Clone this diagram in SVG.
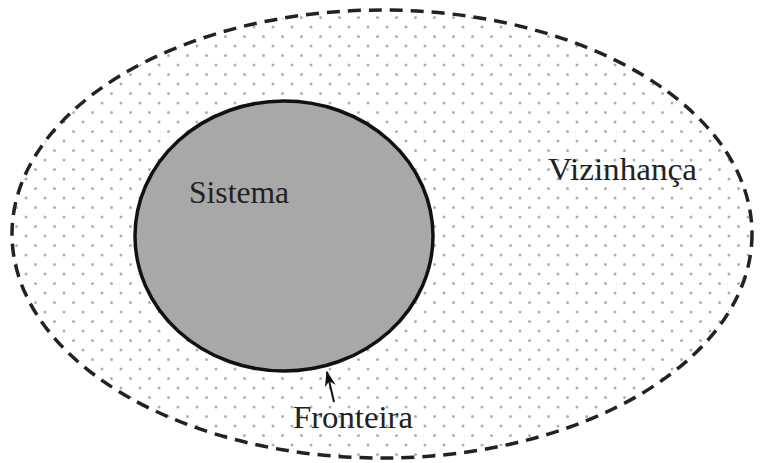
<svg xmlns="http://www.w3.org/2000/svg" width="761" height="463" viewBox="0 0 761 463">
<defs>
<pattern id="dots" x="3" y="4" width="19" height="19" patternUnits="userSpaceOnUse">
<circle cx="4" cy="4" r="1.5" fill="#b0b0b0"/>
<circle cx="13.5" cy="13.5" r="1.5" fill="#b0b0b0"/>
</pattern>
<marker id="arr" viewBox="0 0 10 10" refX="9" refY="5" markerWidth="16" markerHeight="11" markerUnits="userSpaceOnUse" orient="auto" preserveAspectRatio="none">
<path d="M0,0 L10,5 L0,10 L3,5 Z" fill="#111"/>
</marker>
<style>
.lbl{font-family:"Liberation Serif","Times New Roman",serif;font-size:32px;fill:#222}
</style>
</defs>
<rect width="761" height="463" fill="#fff"/>
<g id="vizinhanca">
<ellipse cx="382" cy="234" rx="370" ry="224" fill="url(#dots)" stroke="#222" stroke-width="3.5" stroke-dasharray="13 8"/>
<text class="lbl" x="548" y="180" textLength="149" lengthAdjust="spacingAndGlyphs">Vizinhança</text>
</g>
<g id="sistema">
<ellipse cx="284" cy="236" rx="149" ry="135" fill="#a8a8a8" stroke="#111" stroke-width="3.5"/>
<text class="lbl" x="189" y="203" textLength="100" lengthAdjust="spacingAndGlyphs">Sistema</text>
</g>
<g id="fronteira">
<text class="lbl" x="293" y="428" textLength="120" lengthAdjust="spacingAndGlyphs">Fronteira</text>
</g>
<g id="connectors">
<line x1="334" y1="402" x2="327" y2="372" stroke="#111" stroke-width="2" marker-end="url(#arr)"/>
</g>
</svg>
